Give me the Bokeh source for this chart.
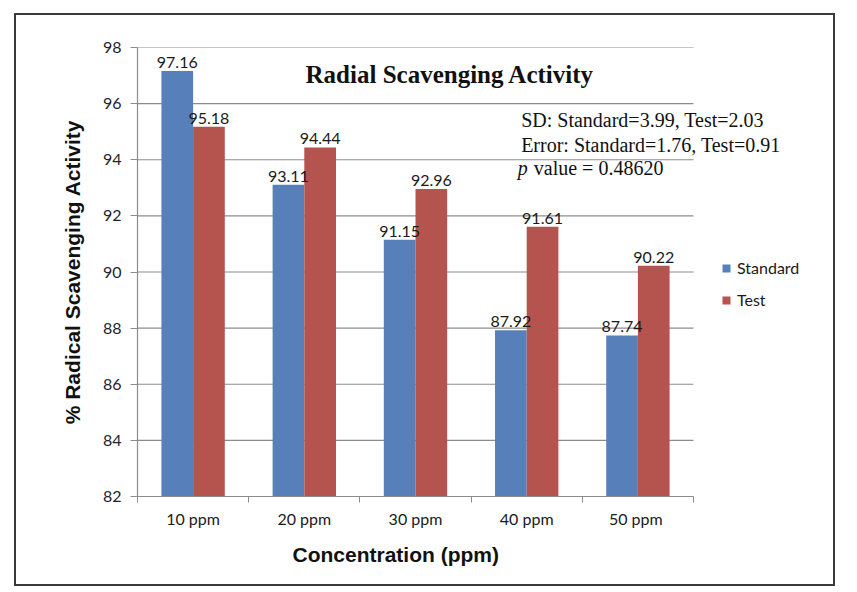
from bokeh.plotting import figure
from bokeh.models import (ColumnDataSource, Range1d, LinearAxis, FixedTicker,
                          LabelSet, Label, Legend, LegendItem, Title)
from bokeh.core.properties import value
from bokeh.transform import dodge
from bokeh.embed import file_html
from bokeh.resources import INLINE

categories = ["10 ppm", "20 ppm", "30 ppm", "40 ppm", "50  ppm"]
standard = [97.16, 93.11, 91.15, 87.92, 87.74]
test = [95.18, 94.44, 92.96, 91.61, 90.22]
y_ticks = [82, 84, 86, 88, 90, 92, 94, 96, 98]
title_text = "Radial Scavenging Activity"
stats_lines = ["SD: Standard=3.99, Test=2.03", "Error:  Standard=1.76, Test=0.91"]
p_value_text = "value  = 0.48620"
x_title = "Concentration (ppm)"
y_title = "% Radical Scavenging Activity"

BLUE = "#5780BB"
RED = "#B5534F"
GRID = "#8C8C8C"

n = len(categories)
PX_PER_CAT = 111.2
FRAME_W = 692
xmax = FRAME_W / PX_PER_CAT

centers = [i + 0.5 for i in range(n)]
src = ColumnDataSource(dict(
    xc=centers, standard=standard, test=test,
    slab=["%.2f" % v for v in standard], tlab=["%.2f" % v for v in test],
))
grid_src = ColumnDataSource(dict(y=y_ticks[1:]))

p = figure(x_range=Range1d(0, xmax), y_range=Range1d(y_ticks[0], y_ticks[-1]),
           frame_width=FRAME_W, frame_height=449,
           output_backend="svg", toolbar_location=None, x_axis_location=None,
           min_border_left=121, min_border_right=4, min_border_top=32, min_border_bottom=88)
p.styles = {"border": "2px solid #3a3a3a", "transform": "translate(14px, 13px)"}
p.outline_line_color = None
p.xgrid.grid_line_color = None
p.ygrid.grid_line_color = None

# horizontal gridlines limited to the category span
p.segment(x0=0, x1=n, y0="y", y1="y", source=grid_src, line_color=GRID, line_width=1.2)

bw = 0.285
r1 = p.vbar(x=dodge("xc", -bw / 2), top="standard", bottom=y_ticks[0], width=bw,
            source=src, fill_color=BLUE, line_color=None)
r2 = p.vbar(x=dodge("xc", bw / 2), top="test", bottom=y_ticks[0], width=bw,
            source=src, fill_color=RED, line_color=None)

for col, ycol, off in (("slab", "standard", -bw / 2), ("tlab", "test", bw / 2)):
    ls = LabelSet(x=dodge("xc", off), y=ycol,
                  text=col, source=src, text_align="center", text_baseline="bottom", y_offset=3,
                  text_font=value("Lato"), text_font_size=value("16px"), text_color=value("#1a1a1a"))
    p.add_layout(ls)

# y axis
ya = p.yaxis[0]
ya.ticker = FixedTicker(ticks=y_ticks)
ya.axis_line_color = GRID
ya.axis_line_width = 1.2
ya.major_tick_line_color = GRID
ya.major_tick_out = 7
ya.major_tick_in = 0
ya.minor_tick_line_color = None
ya.major_label_text_font = "Lato"
ya.major_label_text_font_size = "16px"
ya.major_label_text_color = "#1f2333"
ya.major_label_standoff = 9
ya.axis_label = y_title
ya.axis_label_text_font = "Liberation Sans"
ya.axis_label_text_font_style = "bold"
ya.axis_label_text_font_size = "21px"
ya.axis_label_text_color = "#111111"
ya.axis_label_standoff = 16

# x tick axis at category boundaries
xt = LinearAxis(ticker=FixedTicker(ticks=list(range(n + 1))), bounds=(0, n))
xt.axis_line_color = GRID
xt.axis_line_width = 1.2
xt.major_tick_line_color = GRID
xt.major_tick_out = 6
xt.major_tick_in = 0
xt.minor_tick_line_color = None
xt.major_label_text_font_size = "0px"
xt.major_label_standoff = 0
p.add_layout(xt, "below")

# category label axis
xc = LinearAxis(ticker=FixedTicker(ticks=centers), bounds=(0, n),
                major_label_overrides={c: lab for c, lab in zip(centers, categories)})
xc.axis_line_color = None
xc.major_tick_line_color = None
xc.minor_tick_line_color = None
xc.major_label_text_font = "Lato"
xc.major_label_text_font_size = "16px"
xc.major_label_text_color = "#1a1a1a"
xc.major_label_standoff = 0
p.add_layout(xc, "below")

# x axis title, placed as in the reference (left of the frame centre)
p.add_layout(Title(text=x_title, align="left", offset=155, standoff=20,
                   text_font="Liberation Sans", text_font_style="bold",
                   text_font_size="21px", text_color="#111111"), "below")

# chart title and stats
p.add_layout(Label(x=2.81, y=97.04, text=title_text, text_align="center",
                   text_baseline="middle", text_font="Liberation Serif", text_font_style="bold",
                   text_font_size="25px", text_color="#111111"))
line_y = [95.40, 94.53, 93.69]
for yy, line in zip(line_y, stats_lines):
    p.add_layout(Label(x=3.45, y=yy, text=line,
                       text_baseline="middle", text_font="Liberation Serif",
                       text_font_size="20px", text_color="#111111"))
p.add_layout(Label(x=3.42, y=line_y[2], text="p",
                   text_baseline="middle", text_font="Liberation Serif", text_font_style="italic",
                   text_font_size="20px", text_color="#111111"))
p.add_layout(Label(x=3.42, y=line_y[2], x_offset=16, text=p_value_text,
                   text_baseline="middle", text_font="Liberation Serif",
                   text_font_size="20px", text_color="#111111"))

legend = Legend(items=[LegendItem(label="Standard", renderers=[r1]),
                       LegendItem(label="Test", renderers=[r2])],
                location=(584, 187), border_line_color=None, background_fill_alpha=0,
                padding=0, margin=0,
                label_text_font="Lato", label_text_font_size="16px", label_text_color="#1a1a1a",
                glyph_width=10, glyph_height=10, spacing=13, label_standoff=6)
p.add_layout(legend, "center")

open("out.html", "w").write(file_html(p, INLINE))
